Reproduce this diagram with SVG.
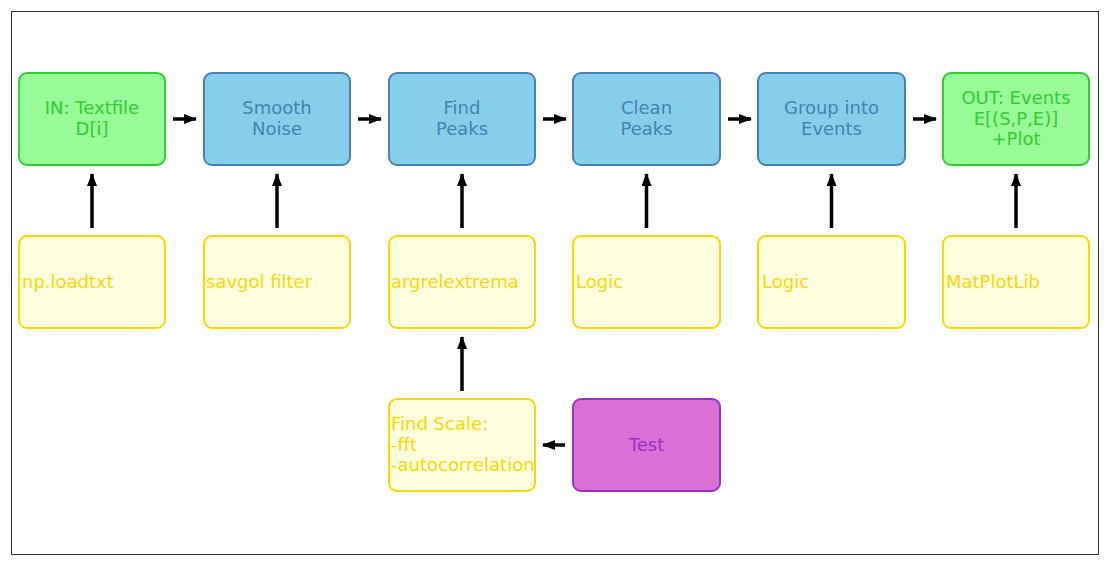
<svg xmlns="http://www.w3.org/2000/svg" width="1108" height="565" viewBox="0 0 1108 565">
<defs>
<style>
text{font-family:"DejaVu Sans","Liberation Sans",sans-serif;font-size:18px}
.g rect{fill:#98FB98;stroke:#32CD32}
.g text{fill:#32CD32;text-anchor:middle}
.b rect{fill:#87CEEB;stroke:#4682B4}
.b text{fill:#4682B4;text-anchor:middle}
.y rect{fill:#FFFFE0;stroke:#FFD700}
.y text{fill:#FFD700}
.p rect{fill:#DA70D6;stroke:#9932CC}
.p text{fill:#9932CC;text-anchor:middle}
rect.n{stroke-width:2}
.e line{stroke:#000;stroke-width:3.5}
</style>
<marker id="ah" viewBox="0 0 13 10" refX="12" refY="5" markerWidth="13" markerHeight="10" markerUnits="userSpaceOnUse" orient="auto">
<path d="M0,0L13,5L0,10z" fill="#000"/>
</marker>
</defs>
<rect x="11.5" y="11.5" width="1087" height="543" fill="#fff" stroke="#333" stroke-width="1"/>
<g id="in" class="g"><rect class="n" x="19" y="73" width="146" height="92" rx="8"/><text x="92" y="114">IN: Textfile</text><text x="92" y="135">D[i]</text></g>
<g id="smooth" class="b"><rect class="n" x="204" y="73" width="146" height="92" rx="8"/><text x="277" y="114">Smooth</text><text x="277" y="135">Noise</text></g>
<g id="find" class="b"><rect class="n" x="389" y="73" width="146" height="92" rx="8"/><text x="462" y="114">Find</text><text x="462" y="135">Peaks</text></g>
<g id="clean" class="b"><rect class="n" x="573" y="73" width="147" height="92" rx="8"/><text x="646.5" y="114">Clean</text><text x="646.5" y="135">Peaks</text></g>
<g id="group" class="b"><rect class="n" x="758" y="73" width="147" height="92" rx="8"/><text x="831.5" y="114">Group into</text><text x="831.5" y="135">Events</text></g>
<g id="out" class="g"><rect class="n" x="943" y="73" width="146" height="92" rx="8"/><text x="1016" y="104">OUT: Events</text><text x="1016" y="125">E[(S,P,E)]</text><text x="1016" y="145">+Plot</text></g>
<g id="loadtxt" class="y"><rect class="n" x="19" y="236" width="146" height="92" rx="8"/><text x="22" y="288">np.loadtxt</text></g>
<g id="savgol" class="y"><rect class="n" x="204" y="236" width="146" height="92" rx="8"/><text x="206" y="288">savgol filter</text></g>
<g id="argrel" class="y"><rect class="n" x="389" y="236" width="146" height="92" rx="8"/><text x="391" y="288">argrelextrema</text></g>
<g id="logic1" class="y"><rect class="n" x="573" y="236" width="147" height="92" rx="8"/><text x="576" y="288">Logic</text></g>
<g id="logic2" class="y"><rect class="n" x="758" y="236" width="147" height="92" rx="8"/><text x="762" y="288">Logic</text></g>
<g id="mpl" class="y"><rect class="n" x="943" y="236" width="146" height="92" rx="8"/><text x="946" y="288">MatPlotLib</text></g>
<g id="scale" class="y"><rect class="n" x="389" y="399" width="146" height="92" rx="8"/><text x="391" y="430">Find Scale:</text><text x="391" y="451">-fft</text><text x="391" y="471">-autocorrelation</text></g>
<g id="test" class="p"><rect class="n" x="573" y="399" width="147" height="92" rx="8"/><text x="646.5" y="451">Test</text></g>
<g id="edges" class="e">
<line x1="173" y1="119" x2="196" y2="119" marker-end="url(#ah)"/>
<line x1="358" y1="119" x2="381" y2="119" marker-end="url(#ah)"/>
<line x1="543" y1="119" x2="566" y2="119" marker-end="url(#ah)"/>
<line x1="728" y1="119" x2="751" y2="119" marker-end="url(#ah)"/>
<line x1="913" y1="119" x2="936" y2="119" marker-end="url(#ah)"/>
<line x1="92" y1="228" x2="92" y2="174" marker-end="url(#ah)"/>
<line x1="277" y1="228" x2="277" y2="174" marker-end="url(#ah)"/>
<line x1="462" y1="228" x2="462" y2="174" marker-end="url(#ah)"/>
<line x1="646.5" y1="228" x2="646.5" y2="174" marker-end="url(#ah)"/>
<line x1="831.5" y1="228" x2="831.5" y2="174" marker-end="url(#ah)"/>
<line x1="1016" y1="228" x2="1016" y2="174" marker-end="url(#ah)"/>
<line x1="462" y1="391" x2="462" y2="337" marker-end="url(#ah)"/>
<line x1="565" y1="445" x2="543" y2="445" marker-end="url(#ah)"/>
</g>
</svg>
